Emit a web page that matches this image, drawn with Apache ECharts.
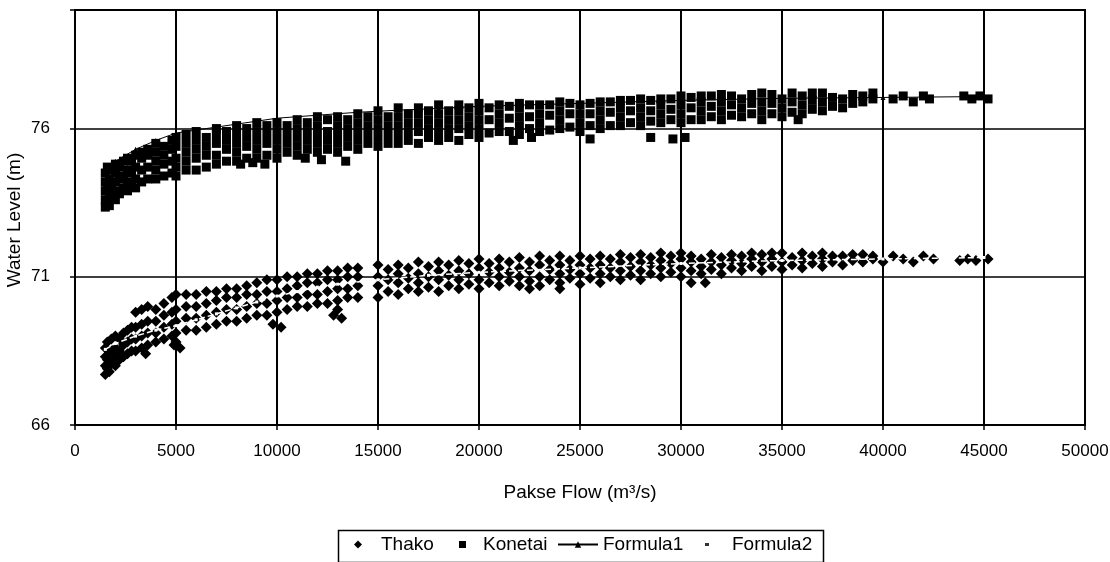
<!DOCTYPE html>
<html>
<head>
<meta charset="utf-8">
<script src="https://cdn.jsdelivr.net/npm/echarts@6/dist/echarts.min.js"></script>
<style>
  html, body { margin: 0; padding: 0; background: #fff; }
  #chart { width: 1110px; height: 562px; }
</style>
</head>
<body>
<div id="chart"></div>
<script>
// Rating data: Pakse flow (m3/s) vs. water level (m)
const xTicks = [0, 5000, 10000, 15000, 20000, 25000, 30000, 35000, 40000, 45000, 50000];
const yTicks = [66, 71, 76];

// Thako station observations [flow, level]
const thako = [
  [1500,67.7],[1500,68.0],[1500,68.3],[1500,68.6],[1600,67.9],[1600,68.2],[1600,68.8],[1700,67.8],[1700,68.4],
  [1800,68.1],[1800,68.5],[1800,68.9],[2000,68.0],[2000,68.3],[2000,68.6],[2000,69.0],[2200,68.2],[2200,68.5],
  [2200,68.9],[2400,68.3],[2400,68.7],[2400,69.1],[2600,68.4],[2600,68.8],[2600,69.2],[2800,68.5],[2800,68.9],
  [2800,69.3],[3000,68.5],[3000,68.9],[3000,69.3],[3000,69.8],[3300,68.6],[3300,69.0],[3300,69.4],[3300,69.9],
  [3600,68.7],[3600,69.1],[3600,69.5],[3600,70.0],[4000,68.8],[4000,69.1],[4000,69.5],[4000,69.9],[4400,68.9],
  [4400,69.3],[4400,69.7],[4400,70.1],[4800,69.0],[4800,69.4],[4800,69.8],[4800,70.3],[5000,68.8],[5000,69.1],
  [5000,69.5],[5000,69.9],[5000,70.4],[5500,69.2],[5500,69.6],[5500,70.0],[5500,70.4],[6000,69.2],[6000,69.6],
  [6000,70.0],[6000,70.4],[6500,69.3],[6500,69.7],[6500,70.1],[6500,70.5],[7000,69.4],[7000,69.8],[7000,70.2],
  [7000,70.5],[7500,69.5],[7500,69.9],[7500,70.3],[7500,70.6],[8000,69.5],[8000,69.9],[8000,70.3],[8000,70.6],
  [8500,69.6],[8500,70.0],[8500,70.4],[8500,70.7],[9000,69.7],[9000,70.1],[9000,70.4],[9000,70.8],[9500,69.7],
  [9500,70.1],[9500,70.5],[9500,70.9],[10000,69.8],[10000,70.2],[10000,70.5],[10000,70.9],[10500,69.9],[10500,70.3],
  [10500,70.6],[10500,71.0],[11000,70.0],[11000,70.3],[11000,70.7],[11000,71.0],[11500,70.0],[11500,70.4],[11500,70.8],
  [11500,71.1],[12000,70.1],[12000,70.4],[12000,70.8],[12000,71.1],[12500,70.1],[12500,70.5],[12500,70.9],[12500,71.2],
  [13000,70.2],[13000,70.6],[13000,70.9],[13000,71.2],[13500,70.3],[13500,70.6],[13500,71.0],[13500,71.3],[14000,70.3],
  [14000,70.7],[14000,71.0],[14000,71.3],[15000,70.3],[15000,70.7],[15000,71.0],[15000,71.4],[16000,70.4],[16000,70.8],
  [16000,71.1],[16000,71.4],[17000,70.5],[17000,70.8],[17000,71.1],[17000,71.5],[18000,70.5],[18000,70.9],[18000,71.2],
  [18000,71.5],[19000,70.6],[19000,70.9],[19000,71.2],[19000,71.55],[20000,70.6],[20000,70.9],[20000,71.3],[20000,71.6],
  [21000,70.7],[21000,71.0],[21000,71.3],[21000,71.6],[22000,70.7],[22000,71.0],[22000,71.3],[22000,71.65],[23000,70.7],
  [23000,71.0],[23000,71.4],[23000,71.7],[24000,70.8],[24000,71.1],[24000,71.4],[24000,71.7],[25000,70.75],[25000,71.1],
  [25000,71.4],[25000,71.7],[26000,70.8],[26000,71.1],[26000,71.4],[26000,71.7],[27000,70.9],[27000,71.2],[27000,71.5],
  [27000,71.75],[28000,70.9],[28000,71.2],[28000,71.5],[28000,71.75],[29000,71.0],[29000,71.3],[29000,71.55],[29000,71.8],
  [30000,71.0],[30000,71.3],[30000,71.6],[30000,71.8],[31000,71.1],[31000,71.35],[31000,71.6],[32000,71.1],[32000,71.4],
  [32000,71.65],[33000,71.2],[33000,71.45],[33000,71.7],[34000,71.2],[34000,71.5],[34000,71.75],[35000,71.25],[35000,71.5],
  [35000,71.8],[36000,71.3],[36000,71.55],[36000,71.8],[37000,71.35],[37000,71.6],[37000,71.8],[38000,71.4],[38000,71.7],
  [39000,71.5],[39000,71.75],[40000,71.5],[40500,71.7],[41000,71.6],[41500,71.5],[42000,71.7],[42500,71.6],
  [43800,71.55],[44200,71.6],[44600,71.55],[45200,71.6],
  [15500,70.5],[15500,70.9],[15500,71.25],[16500,70.6],[16500,70.95],[16500,71.3],[17500,70.65],[17500,71.0],[17500,71.35],
  [18500,70.7],[18500,71.05],[18500,71.4],[19500,70.75],[19500,71.1],[19500,71.45],[20500,70.8],[20500,71.15],[20500,71.45],
  [21500,70.85],[21500,71.15],[21500,71.5],[22500,70.85],[22500,71.2],[22500,71.5],[23500,70.9],[23500,71.25],[23500,71.55],
  [24500,70.95],[24500,71.25],[24500,71.55],[25500,70.95],[25500,71.3],[25500,71.6],[26500,71.0],[26500,71.3],[26500,71.6],
  [27500,71.05],[27500,71.35],[27500,71.65],[28500,71.1],[28500,71.4],[28500,71.65],[29500,71.15],[29500,71.45],[29500,71.7],
  [30500,71.2],[30500,71.5],[30500,71.7],[31500,71.25],[31500,71.5],[31500,71.75],[32500,71.3],[32500,71.55],[32500,71.75],
  [33500,71.35],[33500,71.6],[33500,71.8],[34500,71.35],[34500,71.6],[34500,71.8],[35500,71.4],[35500,71.65],
  [36500,71.45],[36500,71.7],[37500,71.5],[37500,71.7],[38500,71.55],[38500,71.75],[39500,71.6],[39500,71.7],
  [3500,68.4],[4900,68.7],[5200,68.6],[9800,69.4],[10200,69.3],[12800,69.7],[13200,69.6],[13000,69.9],
  [30500,70.8],[31200,70.8],[22500,70.6],[24000,70.6]
];

// Konetai station observations [flow, level]
const konetai = [
  [1500,73.35],[1500,73.6],[1500,73.9],[1500,74.2],[1500,74.5],[1600,73.5],[1600,74.0],[1600,74.7],[1700,73.4],
  [1700,73.8],[1700,74.3],[1800,73.7],[1800,74.1],[1800,74.6],[2000,73.6],[2000,73.9],[2000,74.2],[2000,74.5],
  [2000,74.8],[2200,73.8],[2200,74.3],[2200,74.7],[2400,74.0],[2400,74.4],[2400,74.9],[2600,73.9],[2600,74.2],
  [2600,74.6],[2600,75.0],[2800,74.1],[2800,74.5],[2800,74.9],[3000,74.0],[3000,74.3],[3000,74.7],[3000,75.1],
  [3300,74.2],[3300,74.6],[3300,75.0],[3300,75.2],[3600,74.3],[3600,74.7],[3600,75.1],[3600,75.3],[4000,74.3],
  [4000,74.6],[4000,74.9],[4000,75.2],[4000,75.5],[4400,74.4],[4400,74.8],[4400,75.1],[4400,75.4],[4800,74.5],
  [4800,74.9],[4800,75.3],[4800,75.6],[5000,74.4],[5000,74.7],[5000,75.0],[5000,75.4],[5000,75.7],[5500,74.6],
  [5500,74.9],[5500,75.2],[5500,75.5],[5500,75.8],[6000,74.6],[6000,75.0],[6000,75.3],[6000,75.6],[6000,75.9],
  [6500,74.7],[6500,75.1],[6500,75.4],[6500,75.7],[7000,74.8],[7000,75.1],[7000,75.5],[7000,75.8],[7000,76.0],
  [7500,74.9],[7500,75.3],[7500,75.6],[7500,75.9],[8000,74.9],[8000,75.2],[8000,75.5],[8000,75.8],[8000,76.1],
  [8500,75.0],[8500,75.4],[8500,75.7],[8500,76.0],[9000,75.0],[9000,75.3],[9000,75.6],[9000,75.9],[9000,76.2],
  [9500,75.1],[9500,75.5],[9500,75.8],[9500,76.1],[10000,75.0],[10000,75.3],[10000,75.6],[10000,75.9],[10000,76.2],
  [10500,75.2],[10500,75.5],[10500,75.8],[10500,76.1],[11000,75.1],[11000,75.4],[11000,75.7],[11000,76.0],[11000,76.3],
  [11500,75.3],[11500,75.6],[11500,75.9],[11500,76.2],[12000,75.2],[12000,75.5],[12000,75.8],[12000,76.1],[12000,76.4],
  [12500,75.3],[12500,75.6],[12500,75.9],[12500,76.3],[13000,75.2],[13000,75.5],[13000,75.8],[13000,76.1],[13000,76.4],
  [13500,75.4],[13500,75.7],[13500,76.0],[13500,76.3],[14000,75.3],[14000,75.6],[14000,75.9],[14000,76.2],[14000,76.5],
  [14500,75.5],[14500,75.8],[14500,76.1],[14500,76.4],[15000,75.4],[15000,75.7],[15000,76.0],[15000,76.3],[15000,76.6],
  [15500,75.5],[15500,75.8],[15500,76.1],[15500,76.4],[16000,75.5],[16000,75.8],[16000,76.1],[16000,76.4],[16000,76.7],
  [16500,75.6],[16500,75.9],[16500,76.2],[16500,76.5],[17000,75.5],[17000,75.9],[17000,76.2],[17000,76.5],[17000,76.7],
  [17500,75.7],[17500,76.0],[17500,76.3],[17500,76.6],[18000,75.6],[18000,75.9],[18000,76.2],[18000,76.5],[18000,76.8],
  [18500,75.7],[18500,76.0],[18500,76.3],[18500,76.6],[19000,75.6],[19000,76.0],[19000,76.3],[19000,76.6],[19000,76.8],
  [19500,75.8],[19500,76.1],[19500,76.4],[19500,76.7],[20000,75.7],[20000,76.0],[20000,76.3],[20000,76.6],[20000,76.85],
  [21000,75.9],[21000,76.2],[21000,76.5],[21000,76.8],[22000,75.8],[22000,76.1],[22000,76.4],[22000,76.7],[22000,76.85],
  [23000,75.9],[23000,76.2],[23000,76.5],[23000,76.8],[24000,76.0],[24000,76.3],[24000,76.6],[24000,76.9],
  [25000,75.9],[25000,76.2],[25000,76.5],[25000,76.8],[26000,76.0],[26000,76.3],[26000,76.6],[26000,76.9],
  [27000,76.1],[27000,76.4],[27000,76.7],[27000,76.95],[28000,76.1],[28000,76.4],[28000,76.7],[28000,77.0],
  [29000,76.2],[29000,76.5],[29000,76.8],[29000,77.0],[30000,76.2],[30000,76.5],[30000,76.8],[30000,77.1],
  [31000,76.3],[31000,76.6],[31000,76.9],[31000,77.1],[32000,76.3],[32000,76.6],[32000,76.9],[32000,77.15],
  [33000,76.4],[33000,76.7],[33000,77.0],[34000,76.3],[34000,76.6],[34000,76.9],[34000,77.2],[35000,76.4],
  [35000,76.7],[35000,77.0],[36000,76.5],[36000,76.8],[36000,77.1],[37000,76.6],[37000,76.9],[37000,77.2],
  [38000,76.7],[38000,77.0],[39000,76.9],[39000,77.1],[40500,77.0],[41000,77.1],[41500,76.9],[42000,77.1],
  [42300,77.0],[44000,77.1],[44400,77.0],[44800,77.1],[45200,77.0],
  [20500,75.85],[20500,76.3],[20500,76.7],[21500,75.9],[21500,76.35],[21500,76.75],[22500,76.0],[22500,76.4],[22500,76.8],
  [23500,75.95],[23500,76.45],[23500,76.8],[24500,76.05],[24500,76.5],[24500,76.85],[25500,76.1],[25500,76.5],[25500,76.85],
  [26500,76.1],[26500,76.55],[26500,76.9],[27500,76.2],[27500,76.6],[27500,76.95],[28500,76.25],[28500,76.6],[28500,76.95],
  [29500,76.3],[29500,76.65],[29500,77.0],[30500,76.3],[30500,76.7],[30500,77.05],[31500,76.4],[31500,76.75],[31500,77.1],
  [32500,76.45],[32500,76.8],[32500,77.1],[33500,76.5],[33500,76.85],[33500,77.15],[34500,76.5],[34500,76.85],[34500,77.15],
  [35500,76.55],[35500,76.9],[35500,77.2],[36500,76.65],[36500,76.95],[36500,77.2],[37500,76.75],[37500,77.05],
  [38500,76.85],[38500,77.15],[39500,77.0],[39500,77.2],
  [8200,74.8],[8800,74.85],[9400,74.8],[11400,75.0],[12200,74.95],[13400,74.9],[21700,75.6],[22600,75.7],
  [25500,75.65],[28500,75.7],[29600,75.65],[30200,75.7],[35800,76.3]
];

// Fitted rating curves
const formula1 = [
  [1500,74.6],[2000,74.9],[3000,75.3],[4000,75.6],[5000,75.85],[6000,75.95],[7000,76.05],[8000,76.15],
  [9000,76.25],[10000,76.35],[12000,76.45],[14000,76.55],[16000,76.62],[18000,76.68],[20000,76.75],
  [25000,76.85],[30000,76.95],[35000,77.02],[40000,77.05],[45000,77.08]
];
const formula2 = [
  [1500,68.55],[2000,68.75],[3000,69.0],[4000,69.2],[5000,69.35],[6000,69.55],[7000,69.75],[8000,69.95],
  [9000,70.15],[10000,70.35],[11000,70.5],[12000,70.65],[13000,70.75],[15000,70.9],[17500,71.05],
  [20000,71.15],[25000,71.3],[30000,71.45],[35000,71.55],[40000,71.6],[45000,71.65]
];

const FONT = '"Liberation Sans", Arial, sans-serif';
const legendText = { fontSize: 19, color: '#000', fontFamily: FONT };

// One legend block per entry so each marker and label sits at its own spot
function legendItem(name, left, iconW, iconH, textPad, extra) {
  return Object.assign({
    data: [name], left: left, top: 535, padding: 0,
    itemWidth: iconW, itemHeight: iconH, selectedMode: false,
    textStyle: Object.assign({ padding: [0, 0, 0, textPad] }, legendText)
  }, extra || {});
}

const chart = echarts.init(document.getElementById('chart'), null, { renderer: 'canvas' });

chart.setOption({
  backgroundColor: '#ffffff',
  animation: false,
  textStyle: { fontFamily: FONT, color: '#000' },
  grid: {
    left: 75, right: 25, top: 10, bottom: 137, outerBoundsMode: 'none',
    show: true, borderColor: '#000', borderWidth: 2
  },
  xAxis: {
    type: 'value', min: xTicks[0], max: xTicks[xTicks.length - 1], interval: 5000,
    name: 'Pakse Flow (m³/s)', nameLocation: 'middle', nameGap: 58,
    nameTextStyle: { fontSize: 19, color: '#000', fontFamily: FONT },
    axisLine: { show: true, lineStyle: { color: '#000', width: 2 } },
    axisTick: { show: true, length: 5, lineStyle: { color: '#000', width: 1.5 } },
    axisLabel: { fontSize: 17, color: '#000', margin: 18, fontFamily: FONT,
      formatter: v => String(v) },
    splitLine: { show: true, lineStyle: { color: '#000', width: 2 } }
  },
  yAxis: {
    type: 'value', min: yTicks[0], max: 80, interval: 5,
    axisLine: { show: true, lineStyle: { color: '#000', width: 2 } },
    axisTick: { show: true, length: 5, lineStyle: { color: '#000', width: 1.5 } },
    axisLabel: { fontSize: 17, color: '#000', margin: 25, fontFamily: FONT,
      formatter: v => (yTicks.indexOf(v) >= 0 ? String(v) : '') },
    splitLine: { show: true, lineStyle: { color: '#000', width: 1.5 } }
  },
  legend: [
    legendItem('Thako', 354, 8, 8, 14, { icon: 'diamond' }),
    legendItem('Konetai', 459, 7, 7, 12, { icon: 'rect' }),
    legendItem('Formula1', 557, 40, 8, 0),
    legendItem('Formula2', 705, 4, 3, 18, { icon: 'rect', itemStyle: { color: '#333' } })
  ],
  graphic: [
    {
      type: 'rect', left: 336, top: 528, silent: true,
      shape: { width: 485, height: 32 },
      style: { fill: 'none', stroke: '#000', lineWidth: 1.5 }
    },
    {
      // y-axis title, rotated to read bottom-to-top
      type: 'text', x: 15, y: 220, rotation: Math.PI / 2, silent: true,
      style: {
        text: 'Water Level (m)', fill: '#000',
        font: '19px "Liberation Sans", Arial, sans-serif',
        textAlign: 'center', textVerticalAlign: 'middle'
      }
    }
  ],
  series: [
    {
      name: 'Thako', type: 'scatter', data: thako,
      symbol: 'diamond', symbolSize: 11, itemStyle: { color: '#000', opacity: 1 }, z: 2
    },
    {
      name: 'Konetai', type: 'scatter', data: konetai,
      symbol: 'rect', symbolSize: 9, itemStyle: { color: '#000', opacity: 1 }, z: 2
    },
    {
      name: 'Formula1', type: 'line', data: formula1,
      symbol: 'triangle', symbolSize: 5, showSymbol: true,
      lineStyle: { color: '#000', width: 1 }, itemStyle: { color: '#000' }, z: 4
    },
    {
      name: 'Formula2', type: 'line', data: formula2,
      symbol: 'rect', symbolSize: 3, showSymbol: true,
      lineStyle: { color: '#fff', width: 1.5, type: 'dashed' }, itemStyle: { color: '#fff' }, z: 4
    }
  ]
});
</script>
</body>
</html>
